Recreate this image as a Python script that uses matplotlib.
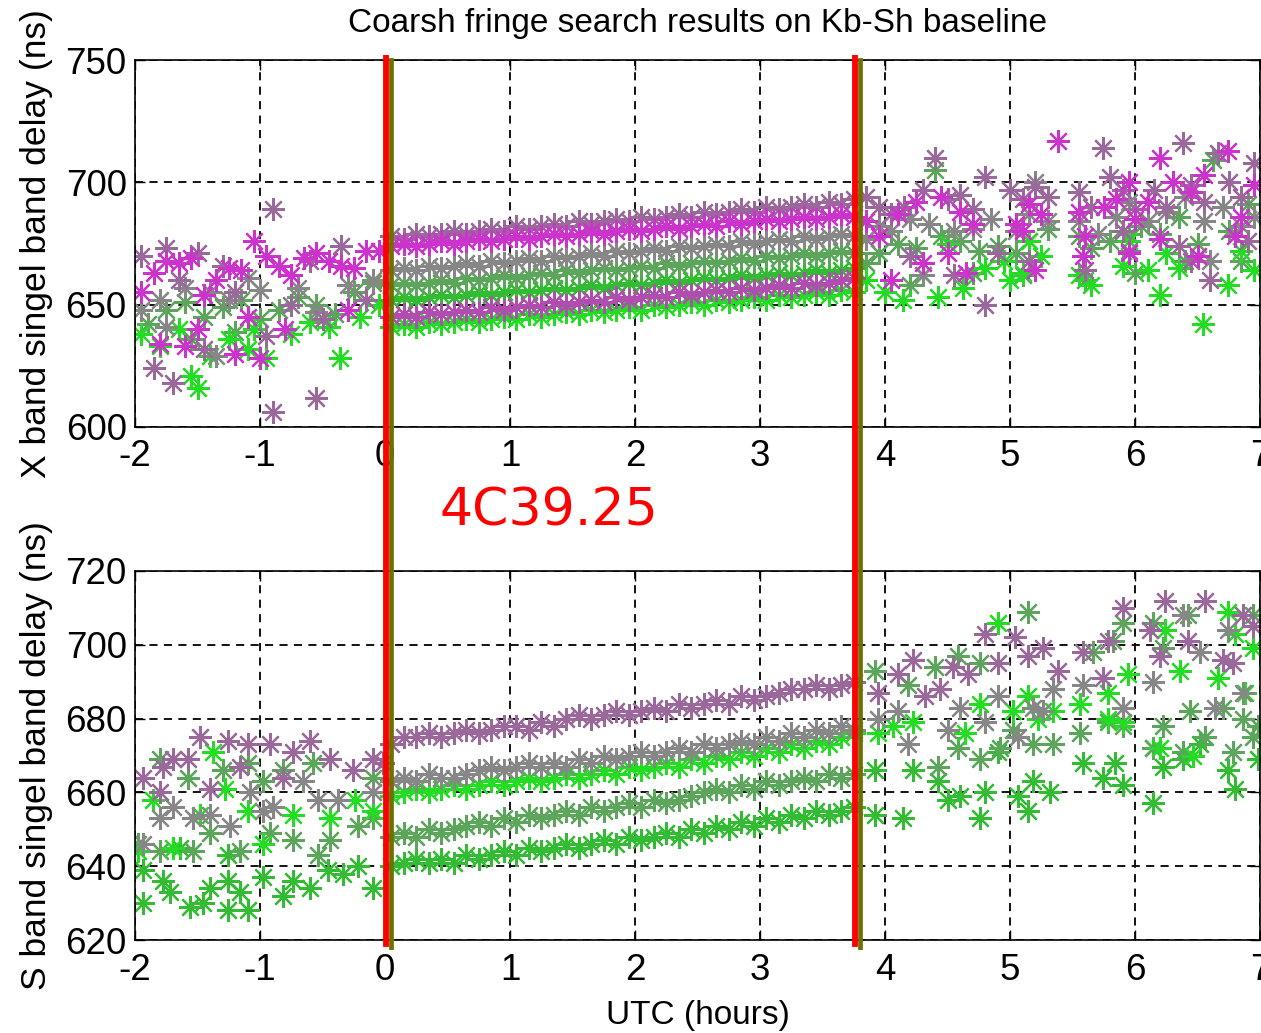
import matplotlib
matplotlib.use("Agg")
import matplotlib.pyplot as plt

# ---------------- data ----------------
XLIM = (-2, 7)
X_TICKS = [-2, -1, 0, 1, 2, 3, 4, 5, 6, 7]
X_YLIM = (600, 750)
X_YTICKS = [600, 650, 700, 750]
S_YLIM = (620, 720)
S_YTICKS = [620, 640, 660, 680, 700, 720]

TITLE = "Coarsh fringe search results on Kb-Sh baseline"
X_YLABEL = "X band singel band delay (ns)"
S_YLABEL = "S band singel band delay (ns)"
XLABEL = "UTC (hours)"
SOURCE = "4C39.25"
RED_MARKS = [0.008, 3.756]
OLIVE_MARKS = [0.048, 3.80]

# common time grid of the scan on the source (hours)
T_MID = [0.05, 0.15, 0.25, 0.35, 0.45, 0.55, 0.65, 0.75, 0.85, 0.95,
         1.05, 1.15, 1.25, 1.35, 1.45, 1.55, 1.65, 1.75, 1.85, 1.95,
         2.05, 2.15, 2.25, 2.35, 2.45, 2.55, 2.65, 2.75, 2.85, 2.95,
         3.05, 3.15, 3.25, 3.35, 3.45, 3.55, 3.65, 3.75]

# X band tracks during the scan
X_MID_MAUVE = [678,677,679,678,679,680,679,680,681,680,682,681,682,683,682,684,683,684,685,684,
               686,685,686,687,686,688,687,688,689,688,690,689,690,691,690,692,691,693]
X_MID_MAGENTA = [674,675,674,675,676,675,676,677,676,677,678,677,678,679,678,679,680,679,680,681,
                 680,681,682,681,682,683,682,684,683,684,685,684,685,686,685,686,687,686]
X_MID_GRAY = [664,665,664,666,665,666,667,666,668,667,668,669,668,670,669,670,671,670,672,671,
              672,673,672,674,673,674,675,674,676,675,676,677,676,678,677,678,679,678]
X_MID_GGREEN = [658,659,658,659,660,659,661,660,661,662,661,662,663,662,664,663,664,665,664,665,
                666,665,667,666,667,668,667,668,669,668,670,669,670,671,670,671,672,671]
X_MID_GREEN = [652,653,652,653,654,653,654,655,654,655,656,655,656,657,656,657,658,657,658,659,
               658,659,660,659,660,661,660,661,662,661,662,663,662,663,664,663,664,665]
X_MID_PURPLE = [645,646,645,647,646,647,648,647,649,648,649,650,649,651,650,651,652,651,653,652,
                653,654,653,655,654,655,656,655,657,656,657,658,657,659,658,659,660,661]
X_MID_BGREEN = [641,642,641,643,642,643,644,643,644,645,644,646,645,646,647,646,648,647,648,649,
                648,650,649,650,651,650,652,651,652,653,652,654,653,654,655,654,656,655]

# S band tracks during the scan
S_MID_MAUVE = [673,675,675,676,675,676,677,676,677,678,678,677,679,678,680,681,680,681,682,681,
               682,683,682,684,683,684,685,684,686,685,686,687,688,688,689,688,689,690]
S_MID_GRAY = [663,664,663,665,664,664,665,666,667,666,667,668,667,668,667,669,668,670,669,670,
              671,670,671,672,671,673,672,673,674,673,675,674,676,675,677,676,678,677]
S_MID_BGREEN = [659,660,661,660,661,662,661,662,663,662,663,664,663,664,665,664,665,666,665,667,
                666,667,668,667,669,668,670,669,671,670,672,671,673,672,674,673,675,676]
S_MID_GGREEN = [648,649,648,650,649,650,651,652,651,653,652,654,653,654,655,654,656,655,656,657,
                656,658,657,658,659,660,661,660,662,661,663,662,663,664,663,665,664,665]
S_MID_GREEN = [640,641,642,641,642,641,643,642,643,644,643,645,644,645,646,645,646,647,646,648,
               647,648,649,648,650,649,651,650,652,651,653,652,654,653,655,654,655,656]

# X band detections outside the scan (time, delay)
X_OUT_MAGENTA = [(-1.95,655),(-1.85,663),(-1.75,668),(-1.65,667),(-1.55,669),(-1.45,654),(-1.35,660),
                 (-1.25,665),(-1.15,664),(-1.05,676),(-0.95,670),(-0.85,666),(-0.75,662),(-0.65,669),
                 (-0.55,671),(-0.45,668),(-0.35,666),(-0.25,665),(-0.15,672),(-0.05,672),(-1.8,634),
                 (-1.6,633),(-1.2,630),(-1.0,628),(-0.8,640),(-0.3,648),(-1.5,640),(-1.1,645),
                 (3.85,684),(3.95,678),(4.1,687),(4.25,692),(4.45,694),(4.6,688),(4.5,671),(4.7,683),
                 (5.05,683),(5.15,691),(5.25,687),(5.38,717),(5.55,688),(5.6,678),(5.75,690),(5.85,693),
                 (5.95,700),(6.1,692),(6.2,710),(6.3,700),(6.45,696),(6.55,703),(6.74,713),(6.85,686),
                 (6.95,699),(4.3,667),(4.65,663),(5.2,664),(5.58,670),(5.95,671),(6.2,677),(6.5,670),
                 (6.8,678),(4.05,660),(5.1,680),(6.0,685)]
X_OUT_MAUVE = [(-1.95,670),(-1.75,673),(-1.5,671),(-1.3,666),(-0.9,689),(-0.6,668),(-0.35,674),
               (-1.65,660),(-1.2,655),(-0.75,650),(-1.85,624),(-1.7,618),(-1.45,632),(-0.95,637),
               (-0.5,644),(-0.15,652),(-0.9,606),(-0.55,612),
               (3.85,694),(3.95,690),(4.05,687),(4.15,690),(4.3,697),(4.4,710),(4.5,693),(4.6,695),
               (4.7,689),(4.8,702),(5.0,697),(5.1,693),(5.2,698),(5.3,694),(5.55,696),(5.65,690),
               (5.74,714),(5.8,702),(5.9,697),(6.0,689),(6.15,697),(6.25,690),(6.38,716),(6.45,699),
               (6.55,692),(6.66,712),(6.75,700),(6.85,694),(6.95,708),(4.2,670),(4.55,662),(4.9,671),
               (5.15,668),(5.6,664),(5.95,672),(6.35,674),(6.6,660),(6.9,676),(4.8,650),(5.9,680),
               (6.45,668)]
X_OUT_GRAY = [(-1.95,648),(-1.8,652),(-1.6,657),(-1.4,655),(-1.25,652),(-1.0,656),(-0.7,657),
              (-0.55,647),(-1.75,641),(-1.35,629),(-0.3,658),(-0.1,660),(-1.1,661),
              (3.85,677),(3.95,682),(4.05,680),(4.2,685),(4.35,683),(4.55,680),(4.7,681),(4.85,685),
              (5.05,680),(5.15,687),(5.3,684),(5.55,684),(5.7,679),(5.85,686),(5.95,692),(6.1,684),
              (6.25,688),(6.4,694),(6.55,684),(6.7,690),(6.85,682),(6.95,686),(4.3,662),(5.2,700),
              (6.6,668)]
X_OUT_GGREEN = [(-1.9,642),(-1.75,648),(-1.6,651),(-1.45,645),(-1.3,649),(-1.15,652),(-1.0,644),
                (-0.85,648),(-0.7,653),(-0.55,650),(-0.4,646),(-0.25,655),(-0.1,659),(-1.55,636),
                (-1.2,639),
                (3.85,667),(3.95,671),(4.1,675),(4.25,673),(4.4,705),(4.45,678),(4.6,676),(4.75,672),
                (4.9,674),(5.05,671),(5.15,676),(5.3,681),(5.55,678),(5.65,673),(5.8,676),(5.95,679),
                (6.05,682),(6.2,679),(6.35,686),(6.5,675),(6.62,709),(6.75,680),(6.9,691),(4.2,658),
                (4.7,663),(5.1,662),(5.6,660),(6.0,663),(6.4,668),(6.85,668)]
X_OUT_GREEN = [(-1.95,638),(-1.8,633),(-1.65,640),(-1.5,616),(-1.4,629),(-1.25,636),(-1.05,640),
               (-0.95,628),(-0.75,638),(-0.6,643),(-0.45,641),(-0.36,628),(-0.2,645),(-1.55,621),
               (-1.1,632),(-0.05,650),
               (3.85,660),(4.0,655),(4.14,652),(4.3,662),(4.42,653),(4.62,657),(4.8,665),(4.95,668),
               (5.1,663),(5.25,670),(5.55,662),(5.65,658),(5.9,666),(5.95,676),(6.1,664),(6.2,654),
               (6.35,665),(6.54,642),(6.74,658),(6.85,672),(6.95,664),(4.5,675),(5.0,660),(6.25,671),
               (5.15,676)]

# S band detections outside the scan (time, delay)
S_OUT_MAUVE = [(-1.94,664),(-1.48,675),(-1.26,674),(-1.10,673),(-0.92,673),(-0.60,674),(-0.74,671),
               (-0.44,669),(-0.10,669),(-1.78,667),(-1.70,669),(-1.58,669),(-1.8,660),(-1.40,661),
               (-0.82,664),(-0.26,666),(-1.16,667),(-0.02,668),
               (4.80,703),(5.04,702),(5.90,710),(6.24,712),(6.56,712),(6.86,708),(6.94,705),(5.78,701),
               (5.58,698),(5.26,699),(5.14,697),(4.54,694),(4.66,692),(4.90,695),(4.22,696),(4.10,692),
               (3.94,687),(4.32,686),(4.44,688),(5.38,693),(5.74,691),(6.20,697),(6.42,701),(6.70,696),
               (6.78,695),(6.12,704)]
S_OUT_GRAY = [(-1.94,646),(-1.8,653),(-1.54,653),(-1.40,654),(-1.24,651),(-1.08,660),(-0.98,655),
              (-0.9,656),(-0.66,663),(-0.54,658),(-0.38,658),(-0.10,660),(-1.70,656),
              (4.60,683),(4.90,686),(5.34,688),(5.58,689),(5.90,683),(5.18,683),(5.26,682),(5.06,675),
              (4.18,673),(4.50,677),(4.80,679),(6.74,704),(6.64,683),(6.86,687),(6.14,690),(6.38,708),
              (6.52,698),(3.94,680),(4.10,682)]
S_OUT_GGREEN = [(-1.80,669),(-1.58,664),(-1.30,666),(-1.10,668),(-0.98,663),(-0.82,666),(-0.58,668),
                (-0.10,664),(-1.98,646),(-1.8,644),(-1.54,644),(-1.40,649),(-1.16,644),(-0.92,649),
                (-0.74,647),(-0.54,643),(-0.44,647),(-0.22,651),(-0.10,653),
                (5.14,709),(5.90,706),(6.14,706),(6.42,708),(6.94,708),(3.92,693),(4.18,689),(4.40,694),
                (4.58,697),(4.76,695),(5.82,701),(5.66,698),(6.22,699),(6.70,683),(6.86,680),(6.22,678),
                (6.44,682),(6.56,675),(6.98,678),(5.18,673),(5.34,673),(5.56,676),(5.78,679),(5.90,678),
                (4.58,672),(4.76,669),(4.92,672),(5.02,677),(4.42,667),(6.14,672),(6.38,671),(6.78,671),
                (6.94,675)]
S_OUT_BGREEN = [(-1.86,658),(-1.38,671),(-1.48,654),(-1.28,661),(-1.10,655),(-0.74,654),(-0.44,653),
                (-0.24,658),(-0.10,655),(-0.98,646),(-1.70,645),(-1.98,644),
                (4.90,706),(6.74,709),(5.94,692),(6.80,703),(6.24,704),(5.78,687),(5.56,684),(5.02,682),
                (5.14,686),(5.22,680),(5.34,682),(4.76,684),(4.64,676),(4.22,679),(4.06,678),(3.94,676),
                (6.36,693),(6.66,691),(6.94,699),(6.20,672),(6.46,670),(5.78,680),(5.90,679),(6.88,687)]
S_OUT_GREEN = [(-1.94,639),(-1.94,630),(-1.78,636),(-1.72,633),(-1.56,629),(-1.46,630),(-1.40,634),
               (-1.26,636),(-1.26,628),(-1.16,633),(-1.10,628),(-0.98,637),(-0.82,632),(-0.74,636),
               (-0.60,634),(-0.46,639),(-0.34,638),(-0.22,640),(-0.10,634),(-1.64,645),(-1.26,643),
               (3.92,666),(3.92,654),(4.14,653),(4.22,666),(4.42,663),(4.50,658),(4.60,659),(4.76,653),
               (4.80,660),(4.90,671),(5.06,659),(5.14,655),(5.18,663),(5.32,660),(5.58,668),(5.84,668),
               (5.74,664),(5.90,662),(6.14,657),(6.22,667),(6.38,669),(6.74,666),(6.80,661),(6.98,669),
               (6.52,673),(6.14,672)]

# colours
C_MAGENTA = "#CC33CC"
C_MAUVE = "#9A689A"
C_PURPLE = "#B04EB0"
C_GRAY = "#878787"
C_GGREEN = "#5BA65B"
C_GREEN = "#33BB33"
C_BGREEN = "#22DD22"

# ---------------- figure ----------------
W, H = 1261, 1033
fig = plt.figure(figsize=(W / 100, H / 100), dpi=100)
FONT = ["Liberation Sans", "DejaVu Sans"]
plt.rcParams["font.family"] = FONT
plt.rcParams["axes.unicode_minus"] = False

left = 135 / W
width = (1260 - 135) / W
ax1 = fig.add_axes([left, 1 - 427 / H, width, 367 / H])
ax2 = fig.add_axes([left, 1 - 940 / H, width, 369 / H])

MK = dict(linestyle="none", marker=(8, 2, 0), markersize=16.5, markeredgewidth=1.6)


def pts(ax, data, color):
    ts = [p[0] for p in data]
    vs = [p[1] for p in data]
    ax.plot(ts, vs, color=color, **MK)


def mid(ax, vals, color):
    ax.plot(T_MID, vals, color=color, **MK)


# X band
pts(ax1, X_OUT_GGREEN, C_GGREEN)
pts(ax1, X_OUT_GREEN, C_BGREEN)
pts(ax1, X_OUT_GRAY, C_GRAY)
pts(ax1, X_OUT_MAUVE, C_MAUVE)
pts(ax1, X_OUT_MAGENTA, C_MAGENTA)
mid(ax1, X_MID_BGREEN, C_BGREEN)
mid(ax1, X_MID_GREEN, C_GREEN)
mid(ax1, X_MID_GGREEN, C_GGREEN)
mid(ax1, X_MID_GRAY, C_GRAY)
mid(ax1, X_MID_MAUVE, C_MAUVE)
mid(ax1, X_MID_MAGENTA, C_MAGENTA)
mid(ax1, X_MID_PURPLE, C_PURPLE)

# S band
pts(ax2, S_OUT_GREEN, C_GREEN)
pts(ax2, S_OUT_GGREEN, C_GGREEN)
pts(ax2, S_OUT_BGREEN, C_BGREEN)
pts(ax2, S_OUT_GRAY, C_GRAY)
pts(ax2, S_OUT_MAUVE, C_MAUVE)
mid(ax2, S_MID_GREEN, C_GREEN)
mid(ax2, S_MID_GGREEN, C_GGREEN)
mid(ax2, S_MID_BGREEN, C_BGREEN)
mid(ax2, S_MID_GRAY, C_GRAY)
mid(ax2, S_MID_MAUVE, C_MAUVE)

for ax, ylim, yt in ((ax1, X_YLIM, X_YTICKS), (ax2, S_YLIM, S_YTICKS)):
    ax.set_xlim(*XLIM)
    ax.set_ylim(*ylim)
    ax.set_xticks(X_TICKS)
    ax.set_yticks(yt)
    ax.grid(True, color="black", linestyle=(0, (4.5, 3.5)), linewidth=1.3)
    ax.set_axisbelow(True)
    ax.tick_params(direction="in", length=7, width=1, labelsize=26.5, pad=6,
                   top=True, right=True)
    ax.tick_params(axis="x", pad=9)
    for s in ax.spines.values():
        s.set_color("black")
        s.set_linewidth(1.2)

ax1.set_ylabel(X_YLABEL, fontsize=25.5, labelpad=9)
ax2.set_ylabel(S_YLABEL, fontsize=25.5, labelpad=9)
ax2.set_xlabel(XLABEL, fontsize=24, labelpad=9)
ax1.set_title(TITLE, fontsize=24, pad=20,
              fontfamily=["Liberation Sans Narrow", "Liberation Sans", "DejaVu Sans"])

# overlay axes for the scan markers spanning both panels
ov = fig.add_axes([left, 1 - 950 / H, width, (950 - 55) / H])
ov.set_xlim(*XLIM)
ov.set_ylim(0, 1)
ov.axis("off")
ov.patch.set_alpha(0)
for xr in RED_MARKS:
    ov.axvline(xr, ymin=6 / 895, ymax=1, color="#FF0000", linewidth=4.2)
for xo in OLIVE_MARKS:
    ov.axvline(xo, ymin=0, ymax=1 - 5 / 895, color="#707000", linewidth=3.4)

fig.text(440 / W, 1 - 525 / H, SOURCE, color="#FF0000", fontsize=37.5,
         fontfamily="DejaVu Sans", ha="left", va="baseline")

fig.savefig("out.png", dpi=100)
